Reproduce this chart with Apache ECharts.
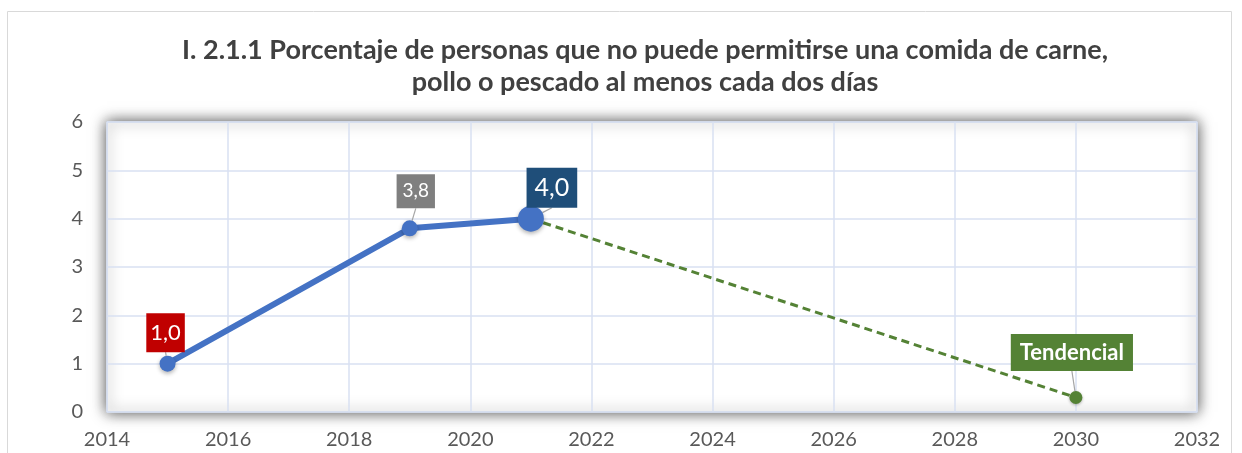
<!DOCTYPE html>
<html><head><meta charset="utf-8">
<script src="https://cdn.jsdelivr.net/npm/echarts@6/dist/echarts.min.js"></script>
<style>html,body{margin:0;padding:0;background:#fff}#c{width:1242px;height:453px}</style>
</head><body><div id="c"></div>
<script>
var titleText = 'I. 2.1.1 Porcentaje de personas que no puede permitirse una comida de carne,\npollo o pescado al menos cada dos días';
var years = [2015, 2019, 2021];
var values = [1.0, 3.8, 4.0];
var valueLabels = ['1,0', '3,8', '4,0'];
var trendYears = [2021, 2030];
var trendValues = [4.0, 0.3];
var trendLabel = 'Tendencial';

var chart = echarts.init(document.getElementById('c'));
var F = 'Lato, "Noto Sans", sans-serif';
var labelStyles = [
  {bg:'#C00000', size:22, pad:[9,4,8,4], dx:-2, dy:-31},
  {bg:'#7F7F7F', size:19, pad:[8,6,7,6], dx:6, dy:-37},
  {bg:'#1F4E79', size:25, pad:[8,8,7,8], dx:21, dy:-31}
];
var mainLayoutOffsets = labelStyles.map(function(s){return [s.dx, s.dy];});
var mainData = years.map(function(y,i){
  var s = labelStyles[i];
  return {
    value:[y, values[i]],
    symbolSize: i===2 ? 26 : 16,
    label:{show:true, formatter: valueLabels[i], backgroundColor:s.bg, color:'#fff',
      fontSize:s.size, fontFamily:F, padding:s.pad, position:'inside'}
  };
});
var trendData = trendYears.map(function(y,i){
  var d = {value:[y, trendValues[i]]};
  if (i === trendYears.length-1) {
    d.symbolSize = 13;
    d.label = {show:true, formatter: trendLabel, backgroundColor:'#548235', color:'#fff',
      fontSize:22, fontWeight:'bold', fontFamily:F, padding:[8,9,7,9], position:'inside'};
  } else {
    d.symbol = 'none';
    d.symbolSize = 0;
  }
  return d;
});

chart.setOption({
  animation:false,
  title:{text:titleText, left:640, textAlign:'center', top:29,
    textStyle:{fontFamily:F, fontSize:27, fontWeight:'bold', color:'#404040', lineHeight:32}},
  graphic:[{type:'rect', shape:{x:7.5, y:11.5, width:1224, height:460},
    style:{fill:'none', stroke:'#D9D9D9', lineWidth:1}, silent:true, z:-10}],
  grid:{left:107, right:45, top:122, bottom:41, show:true, backgroundColor:'#fff',
    borderColor:'#CBD3E3', borderWidth:1.5,
    shadowBlur:14, shadowColor:'rgba(0,0,0,0.7)', shadowOffsetX:0, shadowOffsetY:0},
  xAxis:{type:'value', min:2014, max:2032, interval:2,
    axisLine:{show:false}, axisTick:{show:false},
    axisLabel:{formatter:function(v){return String(v);}, color:'#595959', fontSize:20, fontFamily:F, margin:18},
    splitLine:{show:true, lineStyle:{color:'#D9E1F2', width:1.5}}},
  yAxis:{type:'value', min:0, max:6, interval:1,
    axisLine:{show:false}, axisTick:{show:false},
    axisLabel:{color:'#595959', fontSize:20, fontFamily:F, margin:24},
    splitLine:{show:true, lineStyle:{color:'#D9E1F2', width:1.5}}},
  series:[
    {type:'line', data:trendData, z:2,
      lineStyle:{color:'#548235', width:3, type:[8,5]},
      itemStyle:{color:'#548235', shadowBlur:3, shadowColor:'rgba(0,0,0,0.3)', shadowOffsetY:1},
      symbol:'circle',
      labelLayout:function(p){ return p.dataIndex === 1 ? {dx:-4, dy:-45} : {}; },
      labelLine:{show:true, lineStyle:{color:'#A6A6A6', width:1.2}}},
    {type:'line', data:mainData, z:3, symbol:'circle',
      lineStyle:{color:'#4472C4', width:6},
      itemStyle:{color:'#4472C4', shadowBlur:4, shadowColor:'rgba(0,0,0,0.3)', shadowOffsetY:2},
      labelLayout:function(p){ var o = mainLayoutOffsets[p.dataIndex]; return {dx:o[0], dy:o[1]}; },
      labelLine:{show:true, lineStyle:{color:'#A6A6A6', width:1.2}}}
  ]
});
</script></body></html>
